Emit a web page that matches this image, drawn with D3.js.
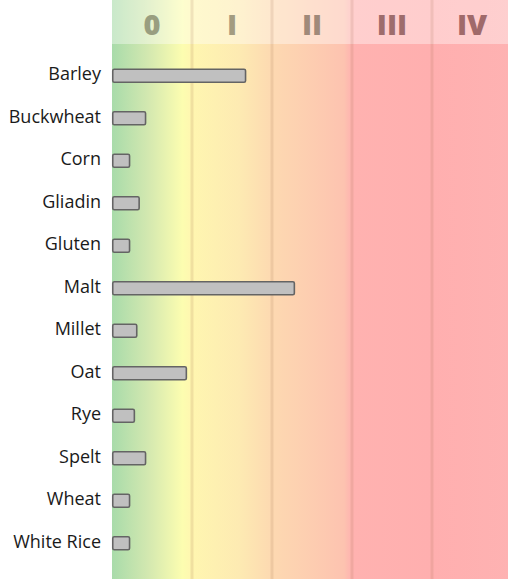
<!DOCTYPE html>
<html>
<head>
<meta charset="utf-8">
<script src="https://cdn.jsdelivr.net/npm/d3@7/dist/d3.min.js"></script>
<style>
  html, body { margin: 0; padding: 0; background: #fff; }
  svg { display: block; }
</style>
</head>
<body>
<svg id="chart" width="508" height="579"></svg>
<script>
// ---- data ----
const categories = ["Barley", "Buckwheat", "Corn", "Gliadin", "Gluten", "Malt", "Millet", "Oat", "Rye", "Spelt", "Wheat", "White Rice"];
const values = [1.66, 0.41, 0.21, 0.33, 0.21, 2.27, 0.30, 0.92, 0.27, 0.41, 0.21, 0.21];
const classLabels = ["0", "I", "II", "III", "IV"];
const classBounds = [0, 1, 2, 3, 4, 5];

const W = 508, H = 579;
const svg = d3.select("#chart");

const x = d3.scaleLinear().domain([0, 5]).range([112, 512]);
const y = d3.scaleBand().domain(categories).range([54.5, 564.5]).padding(0);
const headerH = 44;
const headerColor = d3.scaleOrdinal()
  .domain(classLabels)
  .range(["#999e80", "#a39c80", "#a08a7a", "#9e6c6c", "#a06a6a"]);

// gradient background
const defs = svg.append("defs");
const grad = defs.append("linearGradient").attr("id", "bg")
  .attr("gradientUnits", "userSpaceOnUse")
  .attr("x1", x(0)).attr("x2", x(5)).attr("y1", 0).attr("y2", 0);
const stops = [
  [0, "#a8dbaa"], [0.45, "#d3e8b0"], [0.88, "#fcfdb0"], [1.0, "#fff6b0"],
  [1.6, "#fdeab2"], [2.0, "#fdd9b1"], [2.9, "#fdc3b0"], [3.0, "#ffb2b0"],
  [4.0, "#ffafaf"], [5.0, "#feb2b2"]
];
stops.forEach(([v, c]) => grad.append("stop").attr("offset", (v / 5 * 100) + "%").attr("stop-color", c));

svg.append("rect")
  .attr("x", x(0)).attr("y", 0)
  .attr("width", x(5) - x(0)).attr("height", H)
  .attr("fill", "url(#bg)");

// header overlay
svg.append("rect")
  .attr("x", x(0)).attr("y", 0)
  .attr("width", x(5) - x(0)).attr("height", headerH)
  .attr("fill", "#ffffff").attr("opacity", 0.38);

// grid lines at class boundaries
svg.append("g").selectAll("line")
  .data(classBounds.slice(1, 5))
  .join("line")
  .attr("x1", d => x(d)).attr("x2", d => x(d))
  .attr("y1", 0).attr("y2", H)
  .attr("stroke", "#a07050").attr("stroke-opacity", 0.16)
  .attr("stroke-width", 3);

// header labels
svg.append("g").selectAll("text")
  .data(classLabels)
  .join("text")
  .attr("x", (d, i) => (x(classBounds[i]) + x(classBounds[i + 1])) / 2)
  .attr("y", 35)
  .attr("text-anchor", "middle")
  .attr("font-family", "'Open Sans', sans-serif")
  .attr("font-weight", 800)
  .attr("font-size", 29)
  .attr("fill", d => headerColor(d))
  .text(d => d);

// bars
const barH = 13;
svg.append("g").selectAll("rect")
  .data(categories)
  .join("rect")
  .attr("x", x(0) + 0.75)
  .attr("y", d => y(d) + y.bandwidth() / 2 - barH / 2)
  .attr("width", (d, i) => x(values[i]) - x(0))
  .attr("height", barH)
  .attr("rx", 1.5)
  .attr("fill", "#c0c0c0")
  .attr("stroke", "#646464")
  .attr("stroke-width", 1.6);

// category labels
svg.append("g").selectAll("text")
  .data(categories)
  .join("text")
  .attr("x", 101)
  .attr("y", d => y(d) + y.bandwidth() / 2 + 4.5)
  .attr("text-anchor", "end")
  .attr("font-family", "'Open Sans', sans-serif")
  .attr("font-size", 18)
  .attr("fill", "#1a1a1a")
  .text(d => d);
</script>
</body>
</html>
